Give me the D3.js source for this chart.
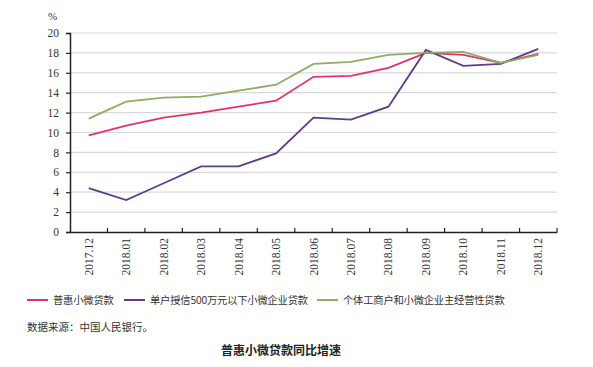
<!DOCTYPE html>
<html>
<head>
<meta charset="utf-8">
<script src="https://cdn.jsdelivr.net/npm/d3@7"></script>
<style>
  body { margin: 0; background: #fff; }
</style>
</head>
<body>
<svg id="chart"></svg>
<script>
// chart data
const months = ["2017.12", "2018.01", "2018.02", "2018.03", "2018.04", "2018.05", "2018.06",
  "2018.07", "2018.08", "2018.09", "2018.10", "2018.11", "2018.12"];
const puhui = [9.7, 10.7, 11.5, 12.0, 12.6, 13.2, 15.6, 15.7, 16.5, 18.0, 17.8, 17.0, 17.9];
const under500 = [4.4, 3.2, 4.9, 6.6, 6.6, 7.9, 11.5, 11.3, 12.6, 18.3, 16.7, 16.9, 18.4];
const getihu = [11.4, 13.1, 13.5, 13.6, 14.2, 14.8, 16.9, 17.1, 17.8, 18.0, 18.1, 17.0, 17.8];
const yTicks = [0, 2, 4, 6, 8, 10, 12, 14, 16, 18, 20];

const series = [
  { name: "普惠小微贷款", values: puhui, color: "#e2326e" },
  { name: "单户授信500万元以下小微企业贷款", values: under500, color: "#5e3b8f" },
  { name: "个体工商户和小微企业主经营性贷款", values: getihu, color: "#8cad62" }
];

const width = 593, height = 367;
const serif = "Liberation Serif, serif";
const cjk = "Noto Sans CJK SC, sans-serif";
const svg = d3.select("#chart").attr("width", width).attr("height", height);

const x = d3.scaleBand().domain(months).range([70, 557]);
const y = d3.scaleLinear().domain([0, 20]).range([232, 33]);

// grid lines
svg.append("g")
  .selectAll("line")
  .data(yTicks.filter(d => d > 0))
  .enter().append("line")
  .attr("x1", 70).attr("x2", 557)
  .attr("y1", d => y(d)).attr("y2", d => y(d))
  .attr("stroke", "#d9d9d9")
  .attr("stroke-width", 1.2);

// y axis
const yAxis = svg.append("g")
  .attr("transform", "translate(70,0)")
  .call(d3.axisLeft(y).tickValues(yTicks).tickSize(4).tickPadding(7))
  .attr("font-family", serif);
yAxis.select(".domain").attr("stroke", "#222").attr("stroke-width", 1.5);
yAxis.selectAll(".tick line").attr("stroke", "#222").attr("stroke-width", 1.2);
yAxis.selectAll(".tick text").attr("font-size", 11.5).attr("fill", "#333");

svg.append("text")
  .attr("x", 48).attr("y", 20)
  .attr("font-family", serif)
  .attr("font-size", 11).attr("fill", "#333")
  .text("%");

// x axis
const xAxis = svg.append("g")
  .attr("transform", "translate(0,232)")
  .call(d3.axisBottom(x).tickSize(0).tickPadding(0))
  .attr("font-family", serif);
xAxis.select(".domain").attr("stroke", "#222").attr("stroke-width", 1.5);
xAxis.selectAll(".tick text")
  .attr("font-size", 11.5).attr("fill", "#333")
  .attr("transform", "rotate(-90)")
  .attr("text-anchor", "end")
  .attr("x", -6).attr("y", 0).attr("dy", "0.35em");

// small inner ticks at band boundaries
svg.append("g")
  .selectAll("line")
  .data(months)
  .enter().append("line")
  .attr("x1", d => x(d) + x.bandwidth())
  .attr("x2", d => x(d) + x.bandwidth())
  .attr("y1", 232).attr("y2", 228)
  .attr("stroke", "#222").attr("stroke-width", 1.2);

// lines
const line = d3.line()
  .x((d, i) => x(months[i]) + x.bandwidth() / 2)
  .y(d => y(d));

svg.append("g")
  .selectAll("path")
  .data(series)
  .enter().append("path")
  .attr("d", d => line(d.values))
  .attr("fill", "none")
  .attr("stroke", d => d.color)
  .attr("stroke-width", 1.8);

// legend
const legendX = [27, 124, 317];
const legend = svg.append("g")
  .selectAll("g")
  .data(series)
  .enter().append("g")
  .attr("transform", (d, i) => `translate(${legendX[i]},300)`);
legend.append("line")
  .attr("x1", 0).attr("x2", 21)
  .attr("stroke", d => d.color).attr("stroke-width", 2);
legend.append("text")
  .attr("x", 26).attr("dy", "0.35em")
  .attr("font-family", cjk)
  .attr("font-size", 10.3).attr("fill", "#333")
  .attr("letter-spacing", -0.2)
  .text(d => d.name);

svg.append("text")
  .attr("x", 27).attr("y", 327).attr("dy", "0.35em")
  .attr("font-family", cjk)
  .attr("font-size", 10.5).attr("fill", "#333")
  .text("数据来源：中国人民银行。");

svg.append("text")
  .attr("x", 281).attr("y", 351).attr("dy", "0.35em")
  .attr("text-anchor", "middle")
  .attr("font-family", cjk)
  .attr("font-size", 12).attr("font-weight", "bold").attr("fill", "#222")
  .text("普惠小微贷款同比增速");
</script>
</body>
</html>
